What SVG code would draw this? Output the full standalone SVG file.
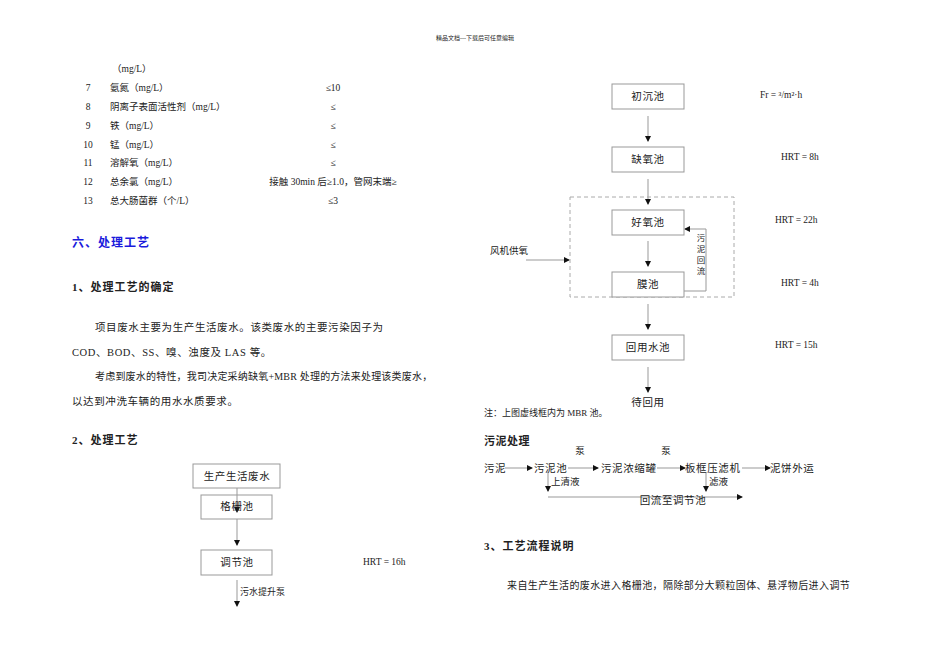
<svg xmlns="http://www.w3.org/2000/svg" width="950" height="672" viewBox="0 0 950 672">
<style>
text{font-family:"Liberation Serif","Noto Sans CJK SC",serif;font-size:9.5px;fill:#222}
.b{font-weight:bold;font-size:11px;letter-spacing:1px}
.p{font-size:10.5px;letter-spacing:0.6px}
.q{font-size:10px;letter-spacing:0.6px}
.n{fill:#fff;stroke:#999;stroke-width:1}
.l{stroke:#999;stroke-width:1;fill:none}
.c{text-anchor:middle}
</style>
<defs><marker id="a" markerWidth="6" markerHeight="6" refX="5" refY="3" orient="auto" markerUnits="userSpaceOnUse"><path d="M0,0L6,3L0,6z" fill="#111"/></marker></defs>
<rect width="950" height="672" fill="#fff"/>
<text x="475" y="40" class="c" style="font-size:6px">精品文档---下载后可任意编辑</text>
<g id="table">
<text x="112" y="72">（mg/L）</text>
<text x="88" y="91" class="c">7</text><text x="110" y="91">氨氮（mg/L）</text><text x="333" y="91" class="c">≤10</text>
<text x="88" y="110" class="c">8</text><text x="110" y="110">阴离子表面活性剂（mg/L）</text><text x="333" y="110" class="c">≤</text>
<text x="88" y="129" class="c">9</text><text x="110" y="129">铁（mg/L）</text><text x="333" y="129" class="c">≤</text>
<text x="88" y="148" class="c">10</text><text x="110" y="148">锰（mg/L）</text><text x="333" y="148" class="c">≤</text>
<text x="88" y="166" class="c">11</text><text x="110" y="166">溶解氧（mg/L）</text><text x="333" y="166" class="c">≤</text>
<text x="88" y="185" class="c">12</text><text x="110" y="185">总余氯（mg/L）</text><text x="333" y="185" class="c">接触 30min 后≥1.0，管网末端≥</text>
<text x="88" y="204" class="c">13</text><text x="110" y="204">总大肠菌群（个/L）</text><text x="333" y="204" class="c">≤3</text>
</g>
<text x="72" y="247" class="b" style="fill:#1a1adc;font-size:12px">六、处理工艺</text>
<text x="72" y="291" class="b">1、处理工艺的确定</text>
<text x="95" y="331" class="p">项目废水主要为生产生活废水。该类废水的主要污染因子为</text>
<text x="72" y="356" class="p">COD、BOD、SS、嗅、浊度及 LAS 等。</text>
<text x="95" y="380" class="q" style="letter-spacing:0.2px">考虑到废水的特性，我司决定采纳缺氧+MBR 处理的方法来处理该类废水，</text>
<text x="72" y="405" class="p">以达到冲洗车辆的用水水质要求。</text>
<text x="72" y="444" class="b">2、处理工艺</text>
<g id="connectors">
<line class="l" x1="237" y1="488" x2="237" y2="512" marker-end="url(#a)"/>
<line class="l" x1="237" y1="519" x2="237" y2="545" marker-end="url(#a)"/>
<line class="l" x1="237" y1="580" x2="237" y2="606" marker-end="url(#a)"/>
<line class="l" x1="648" y1="116" x2="648" y2="141" marker-end="url(#a)"/>
<line class="l" x1="648" y1="179" x2="648" y2="204" marker-end="url(#a)"/>
<line class="l" x1="648" y1="241" x2="648" y2="266" marker-end="url(#a)"/>
<line class="l" x1="648" y1="304" x2="648" y2="329" marker-end="url(#a)"/>
<line class="l" x1="648" y1="367" x2="648" y2="392" marker-end="url(#a)"/>
<polyline class="l" points="684,291 706,291 706,229 685,229" marker-end="url(#a)"/>
<line class="l" x1="526" y1="260" x2="569" y2="260" marker-end="url(#a)"/>
<line class="l" x1="505" y1="468" x2="532" y2="468" marker-end="url(#a)"/>
<line class="l" x1="568" y1="468" x2="598" y2="468" marker-end="url(#a)"/>
<line class="l" x1="657" y1="468" x2="685" y2="468" marker-end="url(#a)"/>
<line class="l" x1="742" y1="468" x2="770" y2="468" marker-end="url(#a)"/>
<line class="l" x1="548" y1="472" x2="548" y2="491" marker-end="url(#a)"/>
<line class="l" x1="706" y1="472" x2="706" y2="491" marker-end="url(#a)"/>
<line class="l" x1="548" y1="497" x2="742" y2="497" marker-end="url(#a)"/>
</g>
<g id="n1"><rect class="n" x="193" y="464" width="87" height="24"/><text x="237" y="480" class="c p">生产生活废水</text></g>
<g id="n2"><rect class="n" x="201" y="495" width="71" height="24" style="fill:none"/><text x="237" y="510" class="c p">格栅池</text></g>
<g id="n3"><rect class="n" x="201" y="550" width="71" height="25"/><text x="237" y="566" class="c p">调节池</text></g>
<text x="363" y="565">HRT = 16h</text>
<text x="240" y="595" style="font-size:9px">污水提升泵</text>
<rect x="570" y="197" width="164" height="100" fill="none" stroke="#aaa" stroke-dasharray="4,3"/>
<g id="r1"><rect class="n" x="612" y="84" width="72" height="25"/><text x="648" y="100" class="c p">初沉池</text></g>
<g id="r2"><rect class="n" x="612" y="147" width="72" height="25"/><text x="648" y="163" class="c p">缺氧池</text></g>
<g id="r3"><rect class="n" x="612" y="210" width="72" height="25"/><text x="648" y="226" class="c p">好氧池</text></g>
<g id="r4"><rect class="n" x="612" y="272" width="72" height="25"/><text x="648" y="288" class="c p">膜池</text></g>
<g id="r5"><rect class="n" x="612" y="335" width="72" height="25"/><text x="648" y="351" class="c p">回用水池</text></g>
<text x="648" y="406" class="c p">待回用</text>
<g style="font-size:8.5px"><text x="701" y="241" class="c" style="font-size:8.5px">污</text><text x="701" y="252" class="c" style="font-size:8.5px">泥</text><text x="701" y="263" class="c" style="font-size:8.5px">回</text><text x="701" y="274" class="c" style="font-size:8.5px">流</text></g>
<text x="490" y="254">风机供氧</text>
<text x="760" y="98">Fr = ³/m²·h</text>
<text x="781" y="160">HRT = 8h</text>
<text x="775" y="223">HRT = 22h</text>
<text x="781" y="286">HRT = 4h</text>
<text x="775" y="348">HRT = 15h</text>
<text x="484" y="416" style="font-size:9px">注：上图虚线框内为 MBR 池。</text>
<text x="484" y="445" class="b" style="letter-spacing:0.5px">污泥处理</text>
<text x="580" y="454" class="c">泵</text><text x="666" y="454" class="c">泵</text>
<text x="484" y="472" class="p">污泥</text>
<text x="534" y="472" class="p">污泥池</text>
<text x="601" y="472" class="p">污泥浓缩罐</text>
<text x="685" y="472" class="p">板框压滤机</text>
<text x="770" y="472" class="p">泥饼外运</text>
<text x="551" y="485">上清液</text>
<text x="709" y="485">滤液</text>
<text x="673" y="504" class="c p">回流至调节池</text>
<text x="484" y="550" class="b">3、工艺流程说明</text>
<text x="507" y="589" class="q" style="letter-spacing:0.4px">来自生产生活的废水进入格栅池，隔除部分大颗粒固体、悬浮物后进入调节</text>
</svg>
